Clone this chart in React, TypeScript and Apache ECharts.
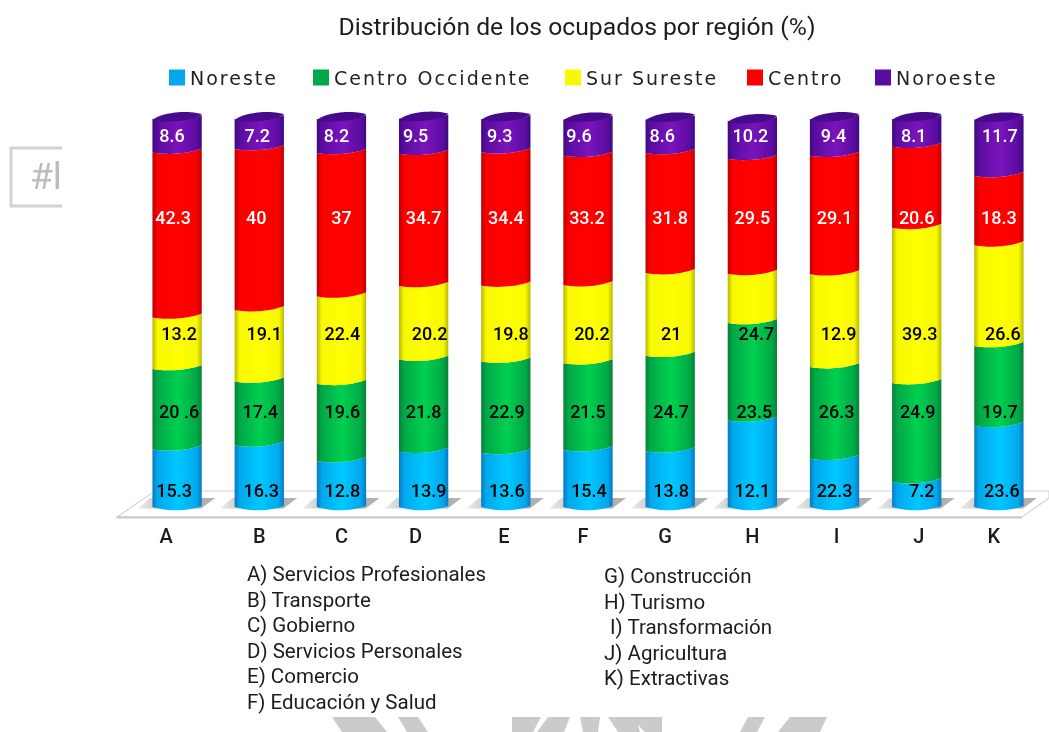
import React, { useEffect, useRef } from "react";
import * as echarts from "echarts";

const categories = ["A", "B", "C", "D", "E", "F", "G", "H", "I", "J", "K"];
// Segment lengths (the printed labels differ a little from them).
const noreste = [15.3, 16.3, 12.3, 14.7, 14.4, 15.1, 14.8, 22.7, 12.9, 6.9, 21.3];
const centroOccidente = [20.6, 16.4, 19.8, 23.6, 23.4, 22.3, 24.5, 25, 23.5, 25.4, 20.5];
const surSureste = [13.2, 18.3, 22.4, 18.9, 19.5, 20, 21.2, 12.6, 23.8, 39.8, 25.8];
const centro = [42.3, 41.3, 36.8, 33.9, 34.2, 33.2, 30.8, 29.5, 30.4, 20.8, 17.8];
const noroeste = [8.6, 7.7, 8.7, 9, 8.5, 9.3, 8.6, 9.7, 9.4, 7.1, 14.5];

const labelsNoreste = ["15.3", "16.3", "12.8", "13.9", "13.6", "15.4", "13.8", "12.1", "22.3", "7.2", "23.6"];
const labelsCentroOcc = ["20 .6", "17.4", "19.6", "21.8", "22.9", "21.5", "24.7", "23.5", "26.3", "24.9", "19.7"];
const labelsSur = ["13.2", "19.1", "22.4", "20.2", "19.8", "20.2", "21", "24.7", "12.9", "39.3", "26.6"];
const labelsCentro = ["42.3", "40", "37", "34.7", "34.4", "33.2", "31.8", "29.5", "29.1", "20.6", "18.3"];
const labelsNoroeste = ["8.6", "7.2", "8.2", "9.5", "9.3", "9.6", "8.6", "10.2", "9.4", "8.1", "11.7"];

const listLeft = [
  "A) Servicios Profesionales",
  "B) Transporte",
  "C) Gobierno",
  "D) Servicios Personales",
  "E) Comercio",
  "F) Educación y Salud",
];
const listRight = ["G) Construcción", "H) Turismo", " I) Transformación", "J) Agricultura", "K) Extractivas"];

type Def = {
  name: string; values: number[]; labels: string[]; row: number; text: string;
  edge: string; main: string; bright: string; legendX: number; shift: number[];
};
const defs: Def[] = [
  { name: "Noreste", values: noreste, labels: labelsNoreste, row: 4.4, text: "#000", edge: "#0a78c0", main: "#00a8ec", bright: "#00c8ff", legendX: 169, shift: [-3, 2, 1, 5, 1, 1, 1, 0, 0, 5, 3] },
  { name: "Centro Occidente", values: centroOccidente, labels: labelsCentroOcc, row: 24.7, text: "#000", edge: "#0b7f38", main: "#00a846", bright: "#00d050", legendX: 313, shift: [2, 1, 1, 0, 1, 0, 1, 2, 2, 1, 1] },
  { name: "Sur Sureste", values: surSureste, labels: labelsSur, row: 44.7, text: "#000", edge: "#b8b800", main: "#f8f800", bright: "#ffff00", legendX: 565, shift: [2, 5, 1, 6, 5, 4, 1, 4, 4, 3, 4] },
  { name: "Centro", values: centro, labels: labelsCentro, row: 74.4, text: "#fff", edge: "#b80000", main: "#fa0000", bright: "#ff0000", legendX: 747, shift: [-4, -3, 0, 0, 0, -1, 0, 0, 0, 0, 0] },
  { name: "Noroeste", values: noroeste, labels: labelsNoroeste, row: 95.6, text: "#fff", edge: "#3c0a80", main: "#5a0ca0", bright: "#7a14bc", legendX: 875, shift: [-5, -2, -5, -8, -6, -9, -8, -2, -1, -3, 1] },
];

const axisShift = [-11, 0, 0, -8, -2, -5, -5, 0, 2, 2, -5];

const watermark: number[][][] = [
  [[332, 717], [375, 717], [387, 732], [342, 732]],
  [[398, 717], [418, 717], [428, 732], [407, 732]],
  [[512, 717], [541, 717], [533, 732], [512, 732]],
  [[548, 717], [570, 717], [564, 732], [537, 732]],
  [[580, 717], [600, 717], [598, 732], [583, 732]],
  [[608, 717], [662, 717], [662, 732], [645, 732], [638, 725], [640, 732], [618, 732]],
  [[748, 717], [765, 717], [757, 732], [740, 732]],
  [[790, 717], [827, 717], [820, 732], [778, 732]],
];

const STEPS = 18;

function bezier(p0: number[], p1: number[], p2: number[], p3: number[]) {
  const out: number[][] = [];
  for (let k = 0; k <= STEPS; k++) {
    const t = k / STEPS;
    const u = 1 - t;
    out.push([
      u * u * u * p0[0] + 3 * u * u * t * p1[0] + 3 * u * t * t * p2[0] + t * t * t * p3[0],
      u * u * u * p0[1] + 3 * u * u * t * p1[1] + 3 * u * t * t * p2[1] + t * t * t * p3[1],
    ]);
  }
  return out;
}

function boundary(x0: number, w: number, y: number) {
  return bezier([x0, y + 1], [x0 + w * 0.3, y + 3.6], [x0 + w * 0.7, y + 2.6], [x0 + w, y - 3]);
}

function makeSeries(d: Def, si: number, starts: number[]) {
  return {
    type: "custom",
    name: d.name,
    z: 3 + si,
    itemStyle: { color: d.main },
    clip: false,
    data: d.values.map((v, i) => [i, starts[i], starts[i] + v]),
    renderItem: (params: any, api: any) => {
      const i = api.value(0);
      const s = api.value(1);
      const e = api.value(2);
      const bw = api.size([1, 0])[0] * 0.6;
      const [xc, yb] = api.coord([i, s]);
      const [, yt] = api.coord([i, e]);
      const x0 = xc - bw / 2;
      const fill = new echarts.graphic.LinearGradient(0, 0, 1, 0, [
        { offset: 0, color: d.edge },
        { offset: 0.1, color: d.main },
        { offset: 0.52, color: d.bright },
        { offset: 0.9, color: d.main },
        { offset: 1, color: d.edge },
      ]);
      const top = boundary(x0, bw, yt);
      const bottom = si === 0
        ? bezier([x0, yb - 1], [x0 + bw * 0.3, yb + 3.5], [x0 + bw * 0.7, yb + 3.5], [x0 + bw, yb - 2])
        : boundary(x0, bw, yb);
      const children: any[] = [
        { type: "polygon", shape: { points: [...top, ...bottom.slice().reverse()] }, style: { fill } },
      ];
      if (si === 0) {
        children.unshift({
          type: "polygon",
          shape: { points: [[xc - 39, yb + 0.5], [xc - 27, yb - 10], [xc + 38, yb - 10], [xc + 24, yb + 0.5]] },
          style: {
            fill: new echarts.graphic.LinearGradient(0, 0, 1, 0, [
              { offset: 0, color: "#ececec" },
              { offset: 0.5, color: "#a6a6a6" },
              { offset: 1, color: "#b4b4b4" },
            ]),
          },
        });
      }
      if (si === defs.length - 1) {
        const t = yt - 1;
        const capTop = bezier([x0, t + 3], [x0 + bw * 0.2, t - 5], [x0 + bw * 0.7, t - 7], [x0 + bw, t - 3]);
        const capLow = bezier([x0 + bw, t - 3], [x0 + bw * 0.9, t + 3], [x0 + bw * 0.3, t + 7], [x0, t + 3]);
        children.push({
          type: "polygon",
          shape: { points: [...capTop, ...capLow] },
          style: { fill: "#470a8c" },
        });
      }
      const [, ly] = api.coord([i, d.row]);
      children.push({
        type: "text",
        z2: 10,
        style: {
          x: xc + d.shift[i], y: ly, text: d.labels[i], align: "center", verticalAlign: "middle",
          fill: d.text, font: "500 18px Roboto",
        },
      });
      return { type: "group", children };
    },
  };
}

export default function App() {
  const ref = useRef<HTMLDivElement>(null);
  useEffect(() => {
    document.body.style.margin = "0";
    const chart = echarts.init(ref.current!, undefined, { renderer: "svg" });
    const cum = categories.map(() => 0);
    const series = defs.map((d, si) => {
      const starts = cum.slice();
      d.values.forEach((v, i) => (cum[i] += v));
      return makeSeries(d, si, starts);
    });
    const graphic: any[] = [
      {
        type: "polygon", z: 0, silent: true,
        shape: { points: [[117, 517], [155, 491], [1049, 491], [1049, 498], [1022, 517]] },
        style: { fill: "#ffffff", stroke: "#d4d4d4", lineWidth: 1.2 },
      },
      { type: "line", z: 0, shape: { x1: 117, y1: 517.5, x2: 1022, y2: 517.5 }, style: { stroke: "#c8c8c8", lineWidth: 2 } },
      { type: "rect", z: 0, shape: { x: 11, y: 148, width: 60, height: 58 }, style: { fill: "#fff", stroke: "#d2d2d2", lineWidth: 3 } },
      {
        type: "text", z: 0, x: 30, y: 176,
        style: { text: "#l", fill: "#bcbcbc", font: "400 37px Roboto", verticalAlign: "middle" },
      },
      { type: "rect", z: 1, shape: { x: 62, y: 140, width: 20, height: 75 }, style: { fill: "#fff" } },
      ...watermark.map((p) => ({ type: "polygon", z: 0, shape: { points: p }, style: { fill: "#cbcbcb" } })),
      ...listLeft.map((t, i) => ({
        type: "text", z: 1, x: 247, y: 574 + i * 25.6,
        style: { text: t, fill: "#1c1c1c", font: "400 20.5px Roboto", verticalAlign: "middle" },
      })),
      ...listRight.map((t, i) => ({
        type: "text", z: 1, x: t.startsWith(" ") ? 610 : 604, y: 576 + i * 25.5,
        style: { text: t.trim(), fill: "#1c1c1c", font: "400 20.5px Roboto", verticalAlign: "middle" },
      })),
    ];
    chart.setOption({
      animation: false,
      backgroundColor: "#ffffff",
      title: {
        text: "Distribución de los ocupados por región (%)",
        left: 572, top: 9, textAlign: "center",
        textStyle: { fontFamily: "Roboto", fontWeight: 400, fontSize: 24.7, color: "#1c1c1c" },
      },
      legend: defs.map((d) => ({
        data: [d.name], left: d.legendX, top: 68, padding: 0, icon: "rect", itemWidth: 16, itemHeight: 16, itemGap: 0,
        selectedMode: false,
        textStyle: { fontFamily: "DejaVu Sans", fontSize: 19, color: "#222" },
      })),
      grid: { left: 136, right: 9, top: 118, bottom: 224 },
      xAxis: {
        type: "category",
        data: categories.map((c, i) => ({
          value: c,
          textStyle: {
            padding: [0, axisShift[i] < 0 ? -axisShift[i] * 2 : 0, 0, axisShift[i] > 0 ? axisShift[i] * 2 : 0],
          },
        })),
        axisLine: { show: false },
        axisTick: { show: false },
        axisLabel: { margin: 18, fontFamily: "Roboto", fontWeight: 500, fontSize: 20, color: "#1c1c1c", interval: 0 },
      },
      yAxis: { type: "value", min: 0, max: 100, show: false },
      graphic,
      series,
    });
    return () => chart.dispose();
  }, []);
  return (
    <>
      <style>{`svg text[style*="DejaVu"]{letter-spacing:2px}`}</style>
      <div ref={ref} style={{ width: 1049, height: 732, filter: "blur(0.45px)" }} />
    </>
  );
}
